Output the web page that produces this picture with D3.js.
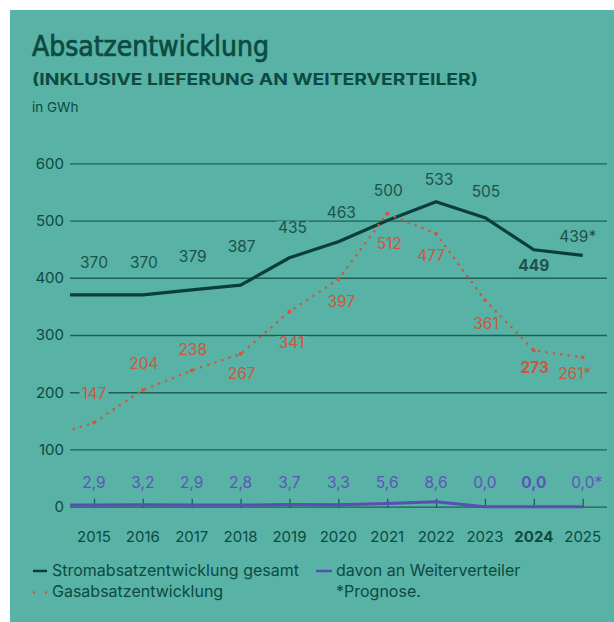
<!DOCTYPE html>
<html>
<head>
<meta charset="utf-8">
<script src="https://cdn.jsdelivr.net/npm/d3@7"></script>
<style>
  html, body { margin: 0; padding: 0; background: #fff; }
  svg { display: block; }
</style>
</head>
<body>
<div id="chart"></div>
<script>
// data
const years = [2014, 2015, 2016, 2017, 2018, 2019, 2020, 2021, 2022, 2023, 2024, 2025];
const strom = [370, 370, 370, 379, 387, 435, 463, 500, 533, 505, 449, 439];
const gas = [120, 147, 204, 238, 267, 341, 397, 512, 477, 361, 273, 261];
const weiter = [2.9, 2.9, 3.2, 2.9, 2.8, 3.7, 3.3, 5.6, 8.6, 0.0, 0.0, 0.0];
const labelYears = [2015, 2016, 2017, 2018, 2019, 2020, 2021, 2022, 2023, 2024, 2025];
const yTicks = [0, 100, 200, 300, 400, 500, 600];
const currentYear = 2024;
const forecastYear = 2025;

// label placement (offset from the point, in px)
const stromDy = [-33, -33, -33, -39, -30, -29, -30, -22, -26, 16, -19];
const stromDx = [0, 1, 1, 1, 3, 3, 1, 3, 1, 0, -5];
const gasDy = [-29, -27, -21, 20, 31, 22, 30, 22, 23, 17, 16];
const gasDx = [0, 1, 1, 1, 2, 3, 2, -5, 1, 1, -8];

const W = 614, H = 622;
const dark = '#0c4a42';
const bg = '#58b2a6';
const gridCol = '#1f5f56';
const redCol = '#d4553a';
const purple = '#5a4db4';

const svg = d3.select('#chart').append('svg')
  .attr('width', W)
  .attr('height', H)
  .style('font-family', 'Inter, sans-serif');

svg.append('rect')
  .attr('x', 10).attr('y', 10)
  .attr('width', W - 10).attr('height', H - 10)
  .attr('fill', bg);

// titles
svg.append('text')
  .attr('x', 32).attr('y', 56)
  .attr('fill', dark)
  .attr('stroke', dark)
  .attr('stroke-width', 0.7)
  .style('font-family', '"Liberation Sans Narrow", "DejaVu Sans Condensed", sans-serif')
  .style('font-size', '28px')
  .style('font-weight', 400)
  .attr('textLength', 237)
  .attr('lengthAdjust', 'spacingAndGlyphs')
  .text('Absatzentwicklung');

svg.append('text')
  .attr('x', 32).attr('y', 85)
  .attr('fill', dark)
  .style('font-size', '15.5px')
  .style('font-weight', 700)
  .attr('textLength', 446)
  .attr('lengthAdjust', 'spacingAndGlyphs')
  .text('(INKLUSIVE LIEFERUNG AN WEITERVERTEILER)');

svg.append('text')
  .attr('x', 32).attr('y', 112)
  .attr('fill', dark)
  .style('font-size', '13.5px')
  .text('in GWh');

// scales
const left = 70, right = 607;
const x = d3.scaleLinear().domain([2015, 2025]).range([94, 582.7]);
const y = d3.scaleLinear().domain([0, 600]).range([506.7, 163.3]);

// grid
const grid = svg.append('g')
  .attr('transform', `translate(${left},0)`)
  .call(d3.axisLeft(y).tickValues(yTicks).tickSize(-(right - left)).tickFormat(''));
grid.select('.domain').remove();
grid.selectAll('.tick line')
  .attr('stroke', gridCol)
  .attr('stroke-width', 1.3);

// y labels
const yAxis = svg.append('g')
  .attr('transform', `translate(${left},0)`)
  .call(d3.axisLeft(y).tickValues(yTicks).tickSize(0).tickPadding(6));
yAxis.select('.domain').remove();
yAxis.selectAll('text')
  .attr('fill', dark)
  .style('font-family', 'Inter, sans-serif')
  .style('font-size', '15px');

// x ticks
const xAxis = svg.append('g')
  .attr('transform', `translate(0,${y(0)})`)
  .call(d3.axisTop(x).tickValues(labelYears).tickSize(8).tickFormat(''));
xAxis.select('.domain').remove();
xAxis.selectAll('.tick line')
  .attr('stroke', gridCol)
  .attr('stroke-width', 1.3)
  .attr('y2', -8).attr('y1', 1);

// year labels
svg.append('g').selectAll('text')
  .data(labelYears)
  .join('text')
  .attr('x', d => x(d))
  .attr('y', 537)
  .attr('dy', '0.35em')
  .attr('text-anchor', 'middle')
  .attr('fill', dark)
  .style('font-size', '15px')
  .style('font-weight', d => d === currentYear ? 700 : 400)
  .text(d => d);

// lines
svg.append('clipPath').attr('id', 'plot-clip')
  .append('rect')
  .attr('x', left).attr('y', 0)
  .attr('width', right - left).attr('height', H);

const plot = svg.append('g').attr('clip-path', 'url(#plot-clip)');

const line = d3.line()
  .x(d => x(d[0]))
  .y(d => y(d[1]));

plot.append('path')
  .datum(years.map((yr, i) => [yr, weiter[i]]))
  .attr('d', line)
  .attr('fill', 'none')
  .attr('stroke', purple)
  .attr('stroke-width', 3);

plot.append('path')
  .datum(years.map((yr, i) => [yr, strom[i]]))
  .attr('d', line)
  .attr('fill', 'none')
  .attr('stroke', '#0a3e38')
  .attr('stroke-width', 3.2)
  .attr('stroke-linejoin', 'round');

plot.append('path')
  .datum(years.map((yr, i) => [yr, gas[i]]))
  .attr('d', line)
  .attr('fill', 'none')
  .attr('stroke', redCol)
  .attr('stroke-width', 2.6)
  .attr('stroke-linecap', 'round')
  .attr('stroke-dasharray', '0 7.5');

plot.append('g').selectAll('circle')
  .data(labelYears)
  .join('circle')
  .attr('cx', d => x(d))
  .attr('cy', d => y(gas[years.indexOf(d)]))
  .attr('r', 1.9)
  .attr('fill', redCol);

// value labels
function valueLabels(values, dxs, dys, color) {
  const g = svg.append('g');
  const items = labelYears.map((yr, i) => {
    const v = values[years.indexOf(yr)];
    return {
      yr,
      cx: x(yr) + dxs[i],
      cy: y(v) + dys[i],
      txt: String(v) + (yr === forecastYear ? '*' : '')
    };
  });
  const t = g.selectAll('g').data(items).join('g');
  const texts = t.append('text')
    .attr('x', d => d.cx)
    .attr('y', d => d.cy)
    .attr('dy', '0.36em')
    .attr('text-anchor', 'middle')
    .attr('fill', color)
    .style('font-size', '15.5px')
    .style('font-weight', d => d.yr === currentYear ? 700 : 400)
    .text(d => d.txt);
  texts.each(function (d) {
    const w = this.getComputedTextLength();
    d3.select(this.parentNode).insert('rect', 'text')
      .attr('x', d.cx - w / 2 - 2)
      .attr('y', d.cy - 6.5)
      .attr('width', w + 4)
      .attr('height', 13)
      .attr('fill', bg);
  });
}

valueLabels(strom, stromDx, stromDy, '#1c524b');
valueLabels(gas, gasDx, gasDy, '#cf573d');

// Weiterverteiler labels
svg.append('g').selectAll('text')
  .data(labelYears)
  .join('text')
  .attr('x', d => x(d) + (d === forecastYear ? 4 : 0))
  .attr('y', 482)
  .attr('dy', '0.36em')
  .attr('text-anchor', 'middle')
  .attr('fill', '#5e55b8')
  .style('font-size', '15.5px')
  .style('font-weight', d => d === currentYear ? 700 : 400)
  .text(d => d3.format('.1f')(weiter[years.indexOf(d)]).replace('.', ',') + (d === forecastYear ? '*' : ''));

// legend
const legend = svg.append('g').style('font-size', '16px');
legend.append('line')
  .attr('x1', 33).attr('x2', 47).attr('y1', 571).attr('y2', 571)
  .attr('stroke', '#0a3e38').attr('stroke-width', 2.5);
legend.append('text')
  .attr('x', 52).attr('y', 570).attr('dy', '0.36em')
  .attr('fill', dark)
  .text('Stromabsatzentwicklung gesamt');

legend.append('line')
  .attr('x1', 34).attr('x2', 47).attr('y1', 592.5).attr('y2', 592.5)
  .attr('stroke', redCol).attr('stroke-width', 2.4)
  .attr('stroke-linecap', 'round')
  .attr('stroke-dasharray', '0 12');
legend.append('text')
  .attr('x', 52).attr('y', 591).attr('dy', '0.36em')
  .attr('fill', dark)
  .text('Gasabsatzentwicklung');

legend.append('line')
  .attr('x1', 316).attr('x2', 332).attr('y1', 571).attr('y2', 571)
  .attr('stroke', purple).attr('stroke-width', 2.5);
legend.append('text')
  .attr('x', 336).attr('y', 570).attr('dy', '0.36em')
  .attr('fill', dark)
  .text('davon an Weiterverteiler');
legend.append('text')
  .attr('x', 336).attr('y', 591).attr('dy', '0.36em')
  .attr('fill', dark)
  .text('*Prognose.');
</script>
</body>
</html>
